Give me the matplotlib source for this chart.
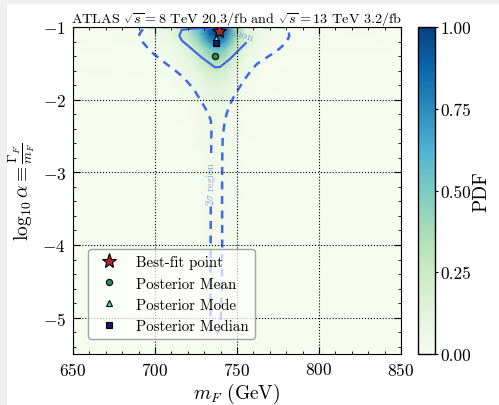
"""Posterior PDF of the vector-like quark mass and width."""

import numpy as np
import matplotlib
matplotlib.use('Agg')
import matplotlib.pyplot as plt
from matplotlib.patches import Rectangle
from matplotlib.ticker import MultipleLocator

plt.rcParams['font.family'] = 'serif'
plt.rcParams['font.serif'] = ['cmr10']
plt.rcParams['mathtext.fontset'] = 'cm'
plt.rcParams['axes.formatter.use_mathtext'] = True
plt.rcParams['xtick.direction'] = 'in'
plt.rcParams['ytick.direction'] = 'in'

# PDF values, on a coarse (uneven) grid
pdf_mass = [650, 695, 710, 720, 727, 733, 738, 743, 749, 756, 765, 780, 850]
pdf_loga = [-5.5, -3.0, -2.1, -1.8, -1.6, -1.45, -1.3, -1.2, -1.1, -1.0]
pdf_vals = [
    [0, 0, 0, 0, 0, 0.01, 0.01, 0.01, 0, 0, 0, 0, 0],
    [0, 0, 0, 0, 0.01, 0.03, 0.03, 0.02, 0.01, 0, 0, 0, 0],
    [0, 0, 0, 0.01, 0.03, 0.05, 0.06, 0.05, 0.02, 0.01, 0, 0, 0],
    [0, 0, 0.01, 0.03, 0.07, 0.11, 0.12, 0.10, 0.05, 0.02, 0.01, 0, 0],
    [0, 0.01, 0.02, 0.06, 0.12, 0.20, 0.23, 0.19, 0.10, 0.04, 0.01, 0, 0],
    [0, 0.01, 0.03, 0.09, 0.20, 0.33, 0.38, 0.31, 0.16, 0.06, 0.02, 0, 0],
    [0, 0.01, 0.04, 0.14, 0.30, 0.50, 0.58, 0.48, 0.25, 0.09, 0.03, 0.01, 0],
    [0, 0.02, 0.06, 0.20, 0.43, 0.70, 0.82, 0.68, 0.35, 0.13, 0.04, 0.01, 0],
    [0, 0.02, 0.09, 0.27, 0.55, 0.85, 0.97, 0.82, 0.38, 0.14, 0.05, 0.01, 0],
    [0, 0.02, 0.10, 0.30, 0.58, 0.88, 1.00, 0.85, 0.35, 0.12, 0.05, 0.01, 0],
]

# 1 sigma contour (solid)
sig1_mass = [733.5, 724.0, 716.3, 714.8, 716.5, 720.3, 728.5, 736.6, 739.6,
             745.7, 751.8, 755.5]
sig1_loga = [-1.012, -1.02, -1.04, -1.12, -1.19, -1.26, -1.42, -1.555, -1.55,
             -1.44, -1.30, -1.22]

# 2 sigma contour (dashed)
sig2_mass = [734.0, 733.9, 733.8, 734.0, 734.8, 736.2, 737.8, 739.0, 740.0,
             740.6, 741.0, 740.9, 741.0, 741.3, 742.7, 745.0, 747.8, 752.9,
             756.9, 762.0, 768.1, 774.2, 780.3, 781.9, 781.3, 779.0, 692.5,
             692.9, 690.4, 691.9, 697.0, 704.1, 711.2, 717.3, 723.4, 727.6,
             731.5, 734.0, 734.4, 734.2]
sig2_loga = [-3.47, -4.05, -4.74, -5.11, -5.19, -5.22, -5.21, -5.18, -5.11,
             -4.74, -4.05, -3.4, -2.8, -2.5, -2.27, -2.10, -1.97, -1.78,
             -1.65, -1.51, -1.42, -1.33, -1.21, -1.12, -1.05, -1.0, -1.0,
             -1.02, -1.10, -1.19, -1.33, -1.46, -1.58, -1.69, -1.85, -2.00,
             -2.15, -2.28, -2.45, -2.80]

# summary points
best_fit = (739.2, -1.05)
post_mean = (736.4, -1.40)
post_mode = (737.2, -1.15)
post_median = (737.2, -1.22)

fig = plt.figure(figsize=(4.99, 4.06), dpi=100, facecolor='#f0f0f0')
fig.patches.append(Rectangle((7 / 499, 0), 1, 1 - 5 / 406, transform=fig.transFigure,
                             facecolor='white', edgecolor='none', zorder=-10))

ax = fig.add_axes([73 / 499, 51 / 406, 328 / 499, 327 / 406])
cax = fig.add_axes([418 / 499, 51 / 406, 17 / 499, 327 / 406])

mesh = ax.pcolormesh(pdf_mass, pdf_loga, np.array(pdf_vals), cmap='GnBu',
                     vmin=0, vmax=1, shading='gouraud', rasterized=True)

blue = '#4169e1'
ax.plot(sig1_mass, sig1_loga, color=blue, lw=1.6, solid_capstyle='round')
ax.plot(sig2_mass, sig2_loga, color=blue, lw=1.8, ls=(0, (3.2, 2.6)))
ax.text(746.5, -1.05, r'$1\sigma$ region', rotation=-18, color=blue, alpha=0.6,
        fontsize=8, ha='center', va='center', clip_on=True)
ax.text(734.2, -3.14, r'$2\sigma$ region', rotation=90, color=blue, alpha=0.6,
        fontsize=7.5, ha='center', va='center')

ax.plot(*best_fit, ls='none', marker='*', ms=11, mfc='#a52a2a', mec='k', mew=0.8,
        label='Best-fit point', zorder=5)
ax.plot(*post_mean, ls='none', marker='o', ms=4.5, mfc='#2e8b57', mec='k', mew=0.8,
        label='Posterior Mean', zorder=5)
ax.plot(*post_mode, ls='none', marker='^', ms=4.5, mfc='#40e0d0', mec='k', mew=0.8,
        label='Posterior Mode', zorder=5)
ax.plot(*post_median, ls='none', marker='s', ms=5, mfc='#191970', mec='k', mew=0.8,
        label='Posterior Median', zorder=5)

ax.set_xlim(650, 850)
ax.set_ylim(-5.5, -1)
ax.xaxis.set_major_locator(MultipleLocator(50))
ax.xaxis.set_minor_locator(MultipleLocator(10))
ax.yaxis.set_major_locator(MultipleLocator(1))
ax.yaxis.set_minor_locator(MultipleLocator(0.2))
ax.tick_params(which='both', top=True, right=True, labelsize=12.5)
ax.tick_params(which='major', length=5, pad=5)
ax.tick_params(which='minor', length=2.5)
ax.set_axisbelow(False)
ax.grid(True, which='major', color='k', ls=':', lw=0.8)

ax.set_xlabel(r'$m_F$ (GeV)', fontsize=14, labelpad=2)
ax.set_ylabel(r'$\log_{10}\alpha \equiv \frac{\Gamma_F}{m_F}$', fontsize=14, labelpad=4)
ax.set_title(r'ATLAS $\sqrt{s}=8$ TeV 20.3/fb and $\sqrt{s}=13$ TeV 3.2/fb',
             fontsize=10.2, pad=2)

leg = ax.legend(loc='lower left', bbox_to_anchor=(0.046, 0.046), borderaxespad=0,
                fontsize=10.8, numpoints=1, framealpha=0.7, edgecolor='gray',
                fancybox=True)
leg.get_frame().set_linewidth(1.0)

cb = fig.colorbar(mesh, cax=cax, ticks=[0, 0.25, 0.5, 0.75, 1.0], format='%.2f')
cb.outline.set_linewidth(1.0)
cax.tick_params(labelsize=12.5, direction='out', length=2, pad=2)
cax.text(3.75, 0.5, 'PDF', rotation=90, fontsize=14, ha='center', va='center',
         transform=cax.transAxes)

fig.savefig('out.png', dpi=100, facecolor=fig.get_facecolor())
